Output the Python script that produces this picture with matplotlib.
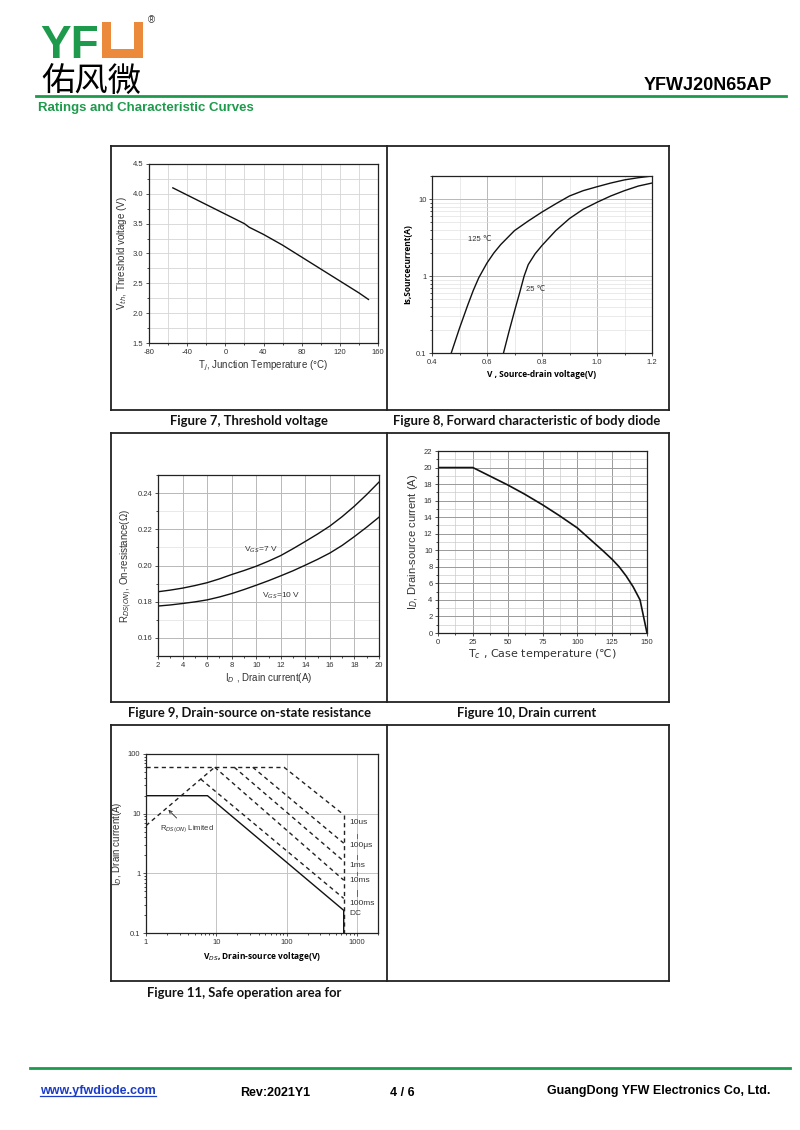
import matplotlib.pyplot as plt
from matplotlib.patches import Rectangle
from matplotlib.ticker import MultipleLocator, LogLocator, NullFormatter, FixedLocator

plt.rcParams['font.family'] = ['Liberation Sans', 'DejaVu Sans']
plt.rcParams['axes.unicode_minus'] = False

W, H = 800, 1130

# Figure 7 - threshold voltage vs junction temperature
tj = [-55, -40, -20, 0, 20, 25, 40, 60, 80, 100, 120, 140, 150]
vth = [4.10, 3.98, 3.82, 3.66, 3.50, 3.44, 3.32, 3.14, 2.94, 2.74, 2.54, 2.34, 2.23]

# Figure 8 - body diode forward characteristic
vsd_125 = [0.47, 0.50, 0.53, 0.55, 0.57, 0.60, 0.625, 0.65, 0.70, 0.75, 0.80, 0.85,
           0.90, 0.95, 1.00, 1.05, 1.10, 1.15, 1.20]
is_125 = [0.1, 0.21, 0.42, 0.65, 0.95, 1.48, 2.0, 2.57, 3.9, 5.2, 6.8, 8.7,
          11.0, 12.9, 14.5, 16.2, 17.8, 19.0, 20.0]
vsd_25 = [0.66, 0.68, 0.70, 0.72, 0.735, 0.75, 0.775, 0.80, 0.85, 0.90, 0.95, 1.00,
          1.05, 1.10, 1.15, 1.20]
is_25 = [0.1, 0.19, 0.35, 0.63, 1.0, 1.41, 1.95, 2.5, 3.9, 5.6, 7.4, 9.1,
         11.0, 12.9, 14.8, 16.2]

# Figure 9 - on-resistance vs drain current
id_a = [2, 3, 4, 5, 6, 7, 8, 9, 10, 11, 12, 13, 14, 15, 16, 17, 18, 19, 20]
r_7v = [0.1855, 0.1864, 0.1875, 0.1889, 0.1905, 0.1926, 0.1950, 0.1972, 0.1996, 0.2024,
        0.2055, 0.2093, 0.2133, 0.2174, 0.2218, 0.2270, 0.2328, 0.2392, 0.2461]
r_10v = [0.1776, 0.1782, 0.1790, 0.1799, 0.1810, 0.1826, 0.1845, 0.1867, 0.1891, 0.1916,
         0.1943, 0.1971, 0.2002, 0.2034, 0.2069, 0.2111, 0.2160, 0.2212, 0.2267]

# Figure 10 - drain current vs case temperature
tc = [0, 25, 50, 62, 75, 87, 100, 112, 118, 125, 130, 135, 140, 145, 150]
id_tc = [20, 20, 17.9, 16.8, 15.5, 14.2, 12.7, 10.9, 10.0, 8.9, 8.0, 6.9, 5.6, 4.0, 0]

# Figure 11 - safe operating area
dc_v = [1, 7.5, 650, 650]
dc_i = [20, 20, 0.24, 0.1]
flat_v = [1, 92]
flat_i = [60, 60]
rds_v = [1, 9.5]
rds_i = [6.3, 60]
pulse_v = [[92, 650], [33, 650], [18, 650], [9.5, 650], [6, 650]]
pulse_i = [[60, 9.6], [60, 3.2], [60, 1.6], [60, 0.77], [38, 0.38]]
edge_v = [650, 650]
edge_i = [9.6, 0.1]
soa_labels = ['10us', '100μs', '1ms', '10ms', '100ms', 'DC']
soa_label_i = [7.0, 2.9, 1.35, 0.75, 0.31, 0.21]
sep_i = [[4.6, 3.9], [2.05, 1.75], [1.05, 0.92], [0.52, 0.42]]

GREEN = '#1e9a4c'
ORANGE = '#ec8a3c'


def box(l, t, r, b):
    return [l / W, 1 - b / H, (r - l) / W, (b - t) / H]


def style(ax):
    for s in ax.spines.values():
        s.set_linewidth(0.9)
        s.set_color('#222222')
    ax.tick_params(labelsize=5.5, colors='#333333', length=2.5, width=0.6,
                   direction='out', pad=1.5)
    ax.tick_params(which='minor', length=1.5, width=0.5)
    ax.set_axisbelow(True)


fig = plt.figure(figsize=(8, 11.3), dpi=100)
page = fig.add_axes([0, 0, 1, 1])
page.set_xlim(0, W)
page.set_ylim(H, 0)
page.axis('off')

# header
page.text(40, 58, 'YF', color=GREEN, fontsize=33, fontweight='bold', va='baseline')
page.add_patch(Rectangle((102, 22), 41, 36, color=ORANGE, lw=0))
page.add_patch(Rectangle((111, 22), 23, 27, color='white', lw=0))
page.text(148, 20, '®', fontsize=7, color='#333333', va='center')
page.text(41, 92, '佑风微', fontsize=24, family=['Noto Sans CJK SC'], va='baseline')
page.text(772, 90, 'YFWJ20N65AP', fontsize=13, fontweight='bold', ha='right', va='baseline')
page.plot([36, 786], [96, 96], color=GREEN, lw=2)
page.text(38, 111, 'Ratings and Characteristic Curves', color=GREEN, fontsize=9.5,
          fontweight='bold', va='baseline')

# table frame
rows = [(146, 410), (433, 702), (725, 981)]
for t, b in rows:
    page.plot([111, 669], [t, t], color='#222222', lw=1.3)
    page.plot([111, 669], [b, b], color='#222222', lw=1.3)
    for x in (111, 387, 669):
        page.plot([x, x], [t, b], color='#222222', lw=1.3)

cap = dict(fontsize=9.4, family=['Lato', 'DejaVu Sans'], fontweight='bold',
           va='center', color='#111111')
page.text(249, 421, 'Figure 7, Threshold voltage', ha='center', **cap)
page.text(527, 421, 'Figure 8, Forward characteristic of body diode', ha='center', **cap)
page.text(249, 713, 'Figure 9, Drain-source on-state resistance', ha='center', **cap)
page.text(527, 713, 'Figure 10, Drain current', ha='center', **cap)
page.text(147, 993, 'Figure 11, Safe operation area for', ha='left', **cap)

# footer
page.plot([30, 790], [1068, 1068], color=GREEN, lw=2)
foot = dict(fontsize=9, fontweight='bold', va='baseline')
page.text(40, 1094, 'www.yfwdiode.com', color='#1a3cc8', **foot)
page.plot([40, 156], [1096, 1096], color='#1a3cc8', lw=0.9)
page.text(240, 1096, 'Rev:2021Y1', **foot)
page.text(390, 1096, '4 / 6', **foot)
page.text(770, 1094, 'GuangDong YFW Electronics Co, Ltd.', ha='right', **foot)

# Figure 7
ax = fig.add_axes(box(149, 164, 378, 343))
style(ax)
ax.plot(tj, vth, color='#111111', lw=1.0)
ax.set_xlim(-80, 160)
ax.set_ylim(1.5, 4.5)
ax.xaxis.set_major_locator(MultipleLocator(40))
ax.xaxis.set_minor_locator(MultipleLocator(20))
ax.yaxis.set_major_locator(MultipleLocator(0.5))
ax.yaxis.set_minor_locator(MultipleLocator(0.25))
ax.yaxis.set_major_formatter(lambda v, p: f'{v:.1f}')
ax.grid(which='both', color='#d4d4d4', lw=0.6)
ax.set_xlabel('T$_j$, Junction Temperature (°C)', fontsize=7, color='#333333', labelpad=2)
ax.set_ylabel('V$_{th}$, Threshold voltage (V)', fontsize=7, color='#333333', labelpad=3)

# Figure 8
ax = fig.add_axes(box(432, 176, 652, 353))
style(ax)
ax.set_yscale('log')
ax.plot(vsd_125, is_125, color='#111111', lw=1.0)
ax.plot(vsd_25, is_25, color='#111111', lw=1.0)
ax.set_xlim(0.4, 1.2)
ax.set_ylim(0.1, 20)
ax.xaxis.set_major_locator(MultipleLocator(0.2))
ax.xaxis.set_minor_locator(MultipleLocator(0.1))
ax.xaxis.set_major_formatter(lambda v, p: f'{v:.1f}')
ax.yaxis.set_major_locator(FixedLocator([0.1, 1, 10]))
ax.yaxis.set_major_formatter(lambda v, p: f'{v:g}')
ax.yaxis.set_minor_locator(LogLocator(subs=range(2, 10)))
ax.yaxis.set_minor_formatter(NullFormatter())
ax.grid(which='major', color='#b8b8b8', lw=0.7)
ax.grid(which='minor', color='#e2e2e2', lw=0.5)
ax.text(0.53, 3.0, '125 ℃', fontsize=5.5, color='#333333', va='center')
ax.text(0.74, 0.67, '25 ℃', fontsize=5.5, color='#333333', va='center')
ax.set_xlabel('V , Source-drain voltage(V)', fontsize=6, fontweight='bold',
              family=['Open Sans', 'DejaVu Sans'], labelpad=3)
ax.set_ylabel('Is,Sourcecurrent(A)', fontsize=6, fontweight='bold',
              family=['Open Sans', 'DejaVu Sans'], labelpad=3)

# Figure 9
ax = fig.add_axes(box(158, 475, 379, 656))
style(ax)
ax.plot(id_a, r_7v, color='#111111', lw=1.0)
ax.plot(id_a, r_10v, color='#111111', lw=1.0)
ax.set_xlim(2, 20)
ax.set_ylim(0.15, 0.25)
ax.xaxis.set_major_locator(MultipleLocator(2))
ax.xaxis.set_minor_locator(MultipleLocator(1))
ax.yaxis.set_major_locator(FixedLocator([0.16, 0.18, 0.20, 0.22, 0.24]))
ax.yaxis.set_minor_locator(MultipleLocator(0.01))
ax.yaxis.set_major_formatter(lambda v, p: f'{v:.2f}')
ax.grid(which='major', color='#b8b8b8', lw=0.7)
ax.grid(which='minor', axis='y', color='#e0e0e0', lw=0.5)
ax.text(9.0, 0.2085, 'V$_{GS}$=7 V', fontsize=6, color='#333333', va='center')
ax.text(10.5, 0.1835, 'V$_{GS}$=10 V', fontsize=6, color='#333333', va='center')
ax.set_xlabel('I$_D$ , Drain current(A)', fontsize=7, color='#333333', labelpad=2)
ax.set_ylabel('R$_{DS(ON)}$, On-resistance(Ω)', fontsize=7, color='#333333', labelpad=3)

# Figure 10
ax = fig.add_axes(box(438, 451, 647, 633))
style(ax)
ax.plot(tc, id_tc, color='#111111', lw=1.2)
ax.set_xlim(0, 150)
ax.set_ylim(0, 22)
ax.xaxis.set_major_locator(MultipleLocator(25))
ax.xaxis.set_minor_locator(MultipleLocator(12.5))
ax.yaxis.set_major_locator(MultipleLocator(2))
ax.yaxis.set_minor_locator(MultipleLocator(1))
ax.grid(which='major', color='#9a9a9a', lw=0.7)
ax.grid(which='minor', color='#cccccc', lw=0.5)
ax.set_xlabel('T$_c$ , Case temperature (℃)', fontsize=8, color='#333333', labelpad=1,
              family='DejaVu Sans')
ax.set_ylabel('I$_D$, Drain-source current (A)', fontsize=8, color='#333333', labelpad=3)

# Figure 11
ax = fig.add_axes(box(146, 754, 378, 933))
style(ax)
ax.set_xscale('log')
ax.set_yscale('log')
ax.plot(dc_v, dc_i, color='#111111', lw=1.0)
dash = dict(color='#222222', lw=1.0, ls=(0, (3, 2.5)))
ax.plot(flat_v, flat_i, **dash)
ax.plot(rds_v, rds_i, **dash)
for v, i in zip(pulse_v, pulse_i):
    ax.plot(v, i, **dash)
ax.plot(edge_v, edge_i, **dash)
ax.set_xlim(1, 2000)
ax.set_ylim(0.1, 100)
ax.xaxis.set_major_locator(FixedLocator([1, 10, 100, 1000]))
ax.xaxis.set_major_formatter(lambda v, p: f'{v:g}')
ax.yaxis.set_major_locator(FixedLocator([0.1, 1, 10, 100]))
ax.yaxis.set_major_formatter(lambda v, p: f'{v:g}')
ax.xaxis.set_minor_locator(LogLocator(subs=range(2, 10)))
ax.yaxis.set_minor_locator(LogLocator(subs=range(2, 10)))
ax.xaxis.set_minor_formatter(NullFormatter())
ax.yaxis.set_minor_formatter(NullFormatter())
ax.grid(which='major', color='#c4c4c4', lw=0.7)
for lab, yi in zip(soa_labels, soa_label_i):
    ax.text(790, yi, lab, fontsize=6, color='#333333', va='center')
for s in sep_i:
    ax.plot([1000, 1000], s, color='#555555', lw=0.6)
ax.annotate('R$_{DS(ON)}$ Limited', xy=(1.95, 12.5), xytext=(1.6, 5.6),
            fontsize=5.5, color='#333333', va='center',
            arrowprops=dict(arrowstyle='->', lw=0.6, color='#222222'))
ax.set_xlabel('V$_{DS}$, Drain-source voltage(V)', fontsize=6, fontweight='bold',
              family=['Open Sans', 'DejaVu Sans'], labelpad=3)
ax.set_ylabel('I$_D$, Drain current(A)', fontsize=7, color='#333333', labelpad=3)

fig.savefig('out.png', dpi=100)
